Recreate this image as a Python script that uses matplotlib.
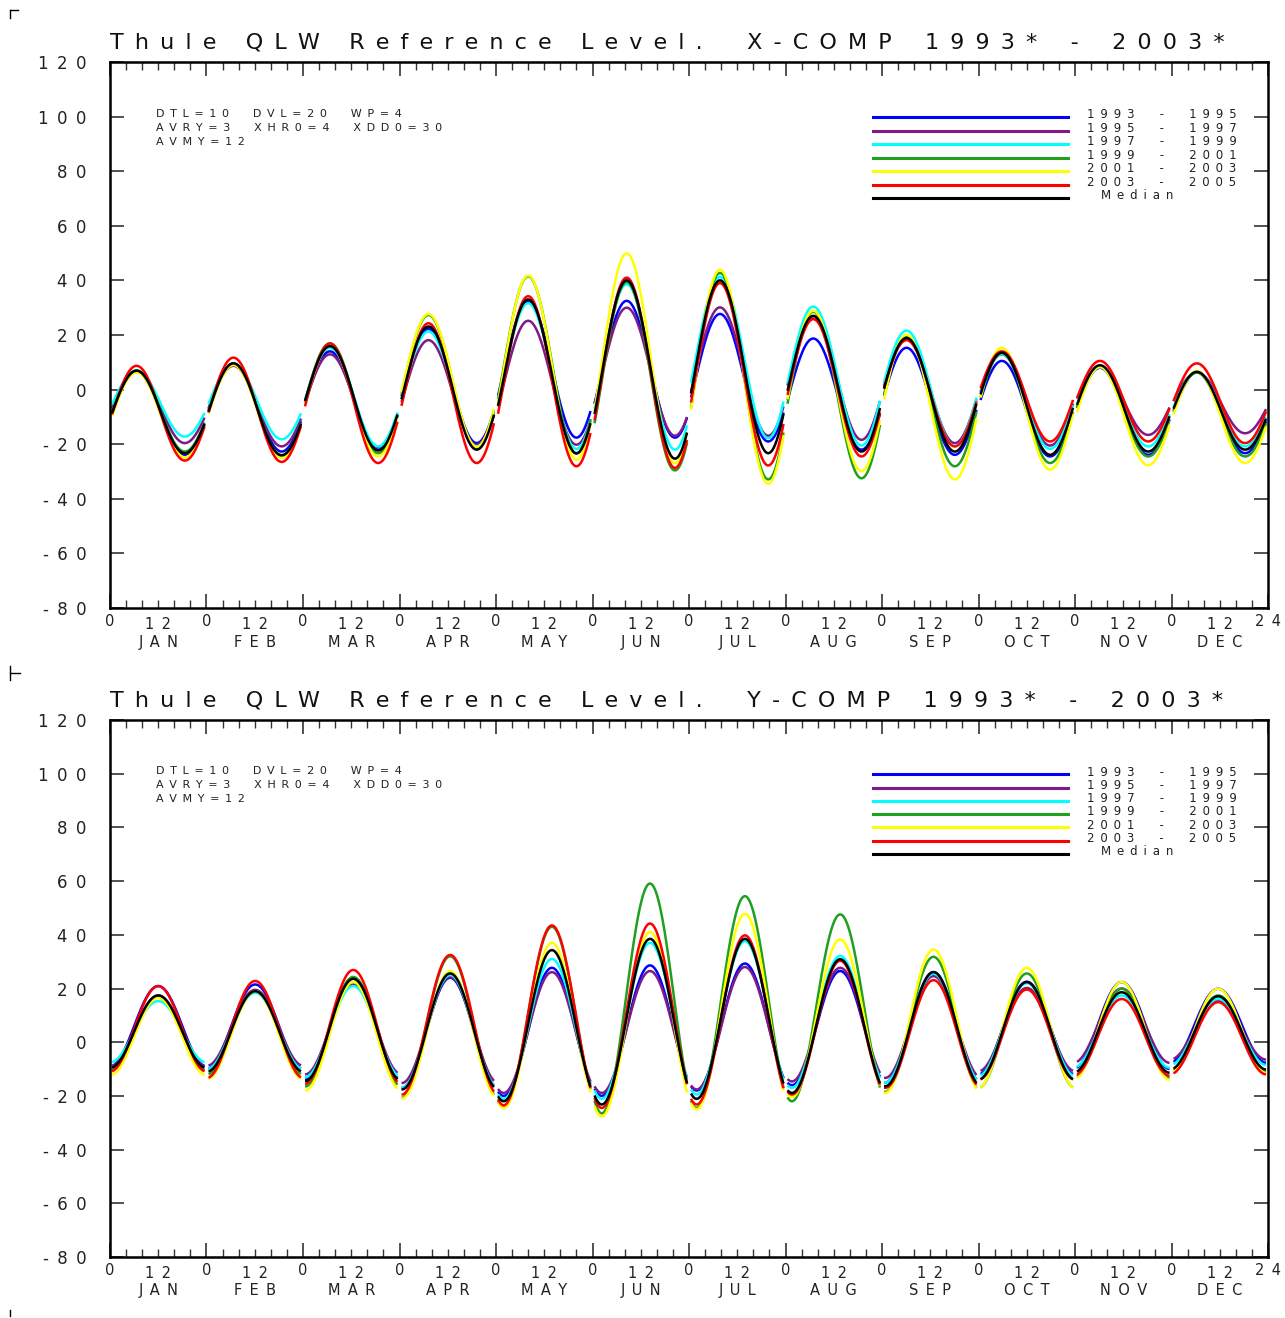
import numpy as np
import matplotlib.pyplot as plt
from matplotlib.lines import Line2D
import matplotlib.transforms as mtransforms

#data
months = ['JAN', 'FEB', 'MAR', 'APR', 'MAY', 'JUN', 'JUL', 'AUG', 'SEP', 'OCT', 'NOV', 'DEC']
labels = ['1993  -  1995', '1995  -  1997', '1997  -  1999', '1999  -  2001',
          '2001  -  2003', '2003  -  2005', 'Median']
colors = ['#0000ff', '#7f1a8a', '#00ffff', '#1fa01f', '#ffff00', '#ff0000', '#000000']
params_text = ['DTL=10  DVL=20  WP=4', 'AVRY=3  XHR0=4  XDD0=30', 'AVMY=12']

# hour of daily maximum, per month
x_peak_hour = [6.6, 6.7, 6.7, 7.2, 8.0, 8.5, 7.7, 6.9, 6.1, 5.8, 6.2, 6.3]
y_peak_hour = [12.0, 12.1, 12.5, 12.6, 13.9, 14.3, 13.9, 13.6, 12.8, 12.0, 11.6, 11.6]

# daily max / min per month (nT), one row per series
x_max = [
    [6.8, 9.5, 14.0, 22.2, 32.2, 32.5, 27.7, 18.7, 15.3, 10.5, 8.0, 6.3],
    [6.5, 8.7, 12.9, 18.1, 25.2, 30.0, 30.1, 26.0, 18.5, 12.9, 8.0, 6.3],
    [7.0, 9.2, 15.3, 21.3, 31.6, 38.6, 41.2, 30.4, 21.6, 13.0, 8.2, 6.5],
    [7.0, 9.6, 16.9, 27.3, 41.5, 39.4, 42.7, 28.5, 19.5, 13.5, 8.5, 6.3],
    [6.3, 9.0, 16.0, 27.7, 41.8, 49.9, 43.9, 28.9, 20.1, 15.3, 8.3, 6.8],
    [8.7, 11.7, 16.9, 24.3, 34.2, 41.0, 39.0, 25.8, 18.1, 14.0, 10.5, 9.6],
    [6.9, 9.6, 15.9, 23.1, 33.0, 40.0, 40.0, 27.0, 18.9, 13.5, 8.9, 6.5],
]
x_min = [
    [-23.9, -22.7, -22.0, -19.6, -17.6, -17.6, -19.0, -22.0, -23.9, -24.5, -23.9, -23.3],
    [-19.6, -20.8, -21.0, -20.2, -20.2, -16.9, -16.9, -18.4, -19.6, -20.5, -16.6, -16.0],
    [-17.2, -18.2, -20.8, -20.8, -21.7, -22.0, -17.8, -20.5, -20.8, -21.7, -20.8, -20.8],
    [-22.7, -24.0, -23.3, -21.5, -23.5, -29.6, -32.9, -32.5, -28.1, -26.9, -24.5, -24.5],
    [-24.8, -25.0, -24.5, -21.0, -25.7, -27.0, -34.5, -29.9, -32.9, -29.3, -27.7, -26.9],
    [-26.0, -26.5, -26.9, -26.9, -28.1, -28.7, -27.8, -24.5, -20.8, -19.0, -19.0, -19.6],
    [-23.3, -24.1, -22.3, -22.0, -23.3, -25.3, -23.3, -22.7, -22.7, -23.9, -22.7, -22.0],
]
y_max = [
    [20.9, 21.5, 24.0, 24.0, 27.7, 28.6, 29.3, 26.5, 26.1, 22.5, 22.4, 19.9],
    [17.4, 19.5, 21.5, 24.3, 26.1, 26.5, 28.0, 27.7, 24.6, 20.2, 20.0, 15.5],
    [15.3, 18.4, 20.9, 25.0, 31.0, 37.0, 37.6, 32.1, 25.5, 22.0, 17.4, 16.1],
    [17.0, 19.0, 24.3, 32.0, 43.0, 59.1, 54.4, 47.6, 31.8, 25.6, 19.9, 17.4],
    [16.5, 19.0, 22.4, 26.5, 37.0, 41.0, 47.8, 38.3, 34.5, 27.7, 22.4, 19.9],
    [20.9, 22.8, 26.9, 32.5, 43.5, 44.2, 39.8, 30.3, 23.1, 19.6, 16.1, 14.9],
    [17.4, 19.0, 23.6, 25.6, 34.3, 38.5, 38.5, 30.9, 26.1, 22.4, 18.6, 17.1],
]
y_min = [
    [-9.0, -10.0, -14.0, -17.0, -20.0, -20.0, -18.0, -16.0, -15.0, -12.0, -10.0, -7.7],
    [-9.0, -8.8, -12.0, -15.2, -18.9, -18.9, -17.6, -14.6, -13.3, -10.8, -7.7, -6.5],
    [-7.5, -10.0, -13.0, -17.0, -21.1, -21.1, -19.5, -17.0, -15.0, -12.5, -9.5, -8.5],
    [-10.5, -12.0, -16.5, -20.7, -24.0, -26.5, -24.5, -22.0, -18.5, -17.0, -13.3, -11.0],
    [-12.4, -13.8, -18.0, -21.0, -24.5, -27.6, -25.0, -20.5, -18.9, -17.0, -14.0, -11.5],
    [-11.0, -13.3, -15.5, -19.5, -23.5, -24.5, -23.2, -19.5, -17.0, -14.0, -12.5, -12.0],
    [-9.6, -11.0, -14.5, -17.6, -22.0, -23.2, -21.1, -18.9, -16.4, -13.9, -11.4, -10.2],
]

yticks = [120, 100, 80, 60, 40, 20, 0, -20, -40, -60, -80]

EN = '\u2002'


# wide letter spacing like the plotter font
def spaced(s, sep=EN):
    return sep.join(s)


#
def daily_panel(ax, comp, vmax, vmin, peak_hour):
    hours = np.arange(0.5, 23.51, 0.25)
    for k in range(len(labels)):
        for m in range(12):
            mid = (vmax[k][m] + vmin[k][m]) / 2
            amp = (vmax[k][m] - vmin[k][m]) / 2
            vals = mid + amp * np.cos(2 * np.pi * (hours - peak_hour[m]) / 24)
            ax.plot(m * 24 + hours, vals, color=colors[k], lw=1.8, solid_capstyle='butt')

    ax.set_xlim(0, 288)
    ax.set_ylim(-80, 120)
    ax.set_yticks(yticks)
    ylab = [('-' + EN + spaced(str(-v))) if v < 0 else spaced(str(v)) for v in yticks]
    ax.set_yticklabels(ylab, fontsize=12, color='#222222')
    ax.set_xticks(np.arange(0, 289, 24))
    ax.set_xticklabels(['0'] * 12 + [spaced('24')], fontsize=10.5, color='#222222')
    ax.set_xticks(np.arange(0, 289, 4), minor=True)
    ax.tick_params(axis='both', which='major', direction='in', length=10, width=1.2,
                   top=True, right=True, color='#333333')
    ax.tick_params(axis='x', which='minor', direction='in', length=6, width=1.0,
                   top=True, color='#333333')
    ax.tick_params(axis='y', pad=17)
    ax.tick_params(axis='x', pad=4)
    for sp in ax.spines.values():
        sp.set_linewidth(1.8)

    trans = mtransforms.blended_transform_factory(ax.transData, ax.transAxes)
    for m, name in enumerate(months):
        ax.text(m * 24 + 12, -0.016, spaced('12'), transform=trans, ha='center', va='top',
                fontsize=10.5, color='#222222')
        ax.text(m * 24 + 12, -0.049, spaced(name), transform=trans, ha='center', va='top',
                fontsize=10.5, color='#222222')

    title = spaced('Thule QLW Reference Level.') + EN * 4 + spaced(comp + '-COMP') + \
        EN * 3 + spaced('1993*') + EN * 3 + '-' + EN * 3 + spaced('2003*')
    ax.text(0, 1.018, title, transform=ax.transAxes, ha='left', va='bottom',
            fontsize=16, color='#111111')

    for i, line in enumerate(params_text):
        ax.text(0.04, 0.905 - i * 0.026, spaced(line), transform=ax.transAxes,
                ha='left', va='center', fontsize=8, color='#222222')

    # legend
    for i, lab in enumerate(labels):
        yy = 0.899 - i * 0.0247
        ax.plot([0.659, 0.827], [yy, yy], transform=ax.transAxes, color=colors[i], lw=2.2)
        xt = 0.844 if lab != 'Median' else 0.856
        ax.text(xt, yy + 0.004, spaced(lab), transform=ax.transAxes, ha='left', va='center',
                fontsize=8.5, color='#222222')


fig = plt.figure(figsize=(12.85, 13.18), dpi=100)
ax1 = fig.add_axes([0.0856, 0.5387, 0.9012, 0.4143])
ax2 = fig.add_axes([0.0856, 0.0463, 0.9012, 0.4074])

daily_panel(ax1, 'X', x_max, x_min, x_peak_hour)
daily_panel(ax2, 'Y', y_max, y_min, y_peak_hour)

# little page marks
W, H = 1285, 1318
for seg in [((10, 10), (10, 18)), ((10, 10), (18, 10)), ((10, 666), (10, 680)),
            ((10, 673), (20, 673)), ((10, 1310), (10, 1316))]:
    (x0, y0), (x1, y1) = seg
    fig.add_artist(Line2D([x0 / W, x1 / W], [1 - y0 / H, 1 - y1 / H], color='k', lw=1))

fig.savefig('out.png', dpi=100)
